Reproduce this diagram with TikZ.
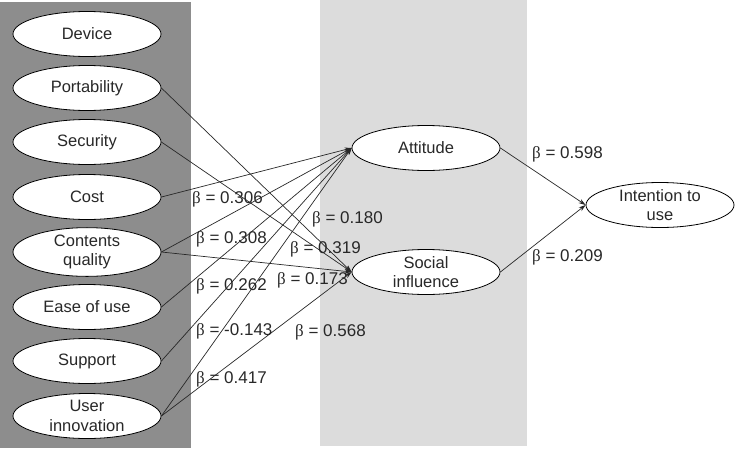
\documentclass[tikz,border=0pt]{standalone}
\usepackage{fontspec}
\setmainfont{Liberation Sans}
\newfontfamily\betafont{Liberation Serif}
\usetikzlibrary{shapes.geometric,arrows.meta}
\definecolor{darkpanel}{RGB}{141,141,141}
\definecolor{lightpanel}{RGB}{220,220,220}
\definecolor{ink}{RGB}{40,40,40}
\newcommand{\bq}[1]{{\betafont β} = #1}
\begin{document}
\begin{tikzpicture}[x=1pt,y=-1pt,
  var/.style={ellipse,draw=black,line width=0.8pt,fill=white,minimum width=148pt,minimum height=45pt,inner sep=0pt,align=center,text=ink,font=\fontsize{16.5}{19.5}\selectfont},
  link/.style={draw=ink,line width=0.7pt,-{Stealth[length=7pt,width=4.5pt]}},
  coef/.style={anchor=west,inner sep=0pt,text=ink,font=\fontsize{17}{19}\selectfont}]
\useasboundingbox (0,0) rectangle (735,450);
\fill[darkpanel] (0,2) rectangle (191,448);
\fill[lightpanel] (320,0) rectangle (527,446);
% left column
\node[var] (dev) at (87,34) {Device};
\node[var] (por) at (87,88) {Portability};
\node[var] (sec) at (87,142) {Security};
\node[var] (cos) at (87,197) {Cost};
\node[var] (con) at (87,252) {Contents\\quality};
\node[var] (eas) at (87,307) {Ease of use};
\node[var] (sup) at (87,361) {Support};
\node[var] (usr) at (87,416) {User\\innovation};
% middle
\node[var] (att) at (426,148) {Attitude};
\node[var] (soc) at (426,272) {Social\\influence};
% right
\node[var] (int) at (660,205) {Intention to\\use};
% connectors
\draw[link] (por.east) -- (soc.west);
\draw[link] (sec.east) -- (soc.west);
\draw[link] (cos.east) -- (att.west);
\draw[link] (con.east) -- (att.west);
\draw[link] (con.east) -- (soc.west);
\draw[link] (eas.east) -- (att.west);
\draw[link] (sup.east) -- (att.west);
\draw[link] (usr.east) -- (att.west);
\draw[link] (usr.east) -- (soc.west);
\draw[link] (att.east) -- (int.west);
\draw[link] (soc.east) -- (int.west);
% coefficients
\node[coef] (c1) at (192,199) {\bq{0.306}};
\node[coef] (c2) at (196,239) {\bq{0.308}};
\node[coef] (c3) at (196,286) {\bq{0.262}};
\node[coef] (c4) at (196,331) {\bq{-0.143}};
\node[coef] (c5) at (196,379) {\bq{0.417}};
\node[coef] (c6) at (312,219) {\bq{0.180}};
\node[coef] (c7) at (290,249) {\bq{0.319}};
\node[coef] (c8) at (277,280) {\bq{0.173}};
\node[coef] (c9) at (295,332) {\bq{0.568}};
\node[coef] (c10) at (532,154) {\bq{0.598}};
\node[coef] (c11) at (532,257) {\bq{0.209}};
\end{tikzpicture}
\end{document}
